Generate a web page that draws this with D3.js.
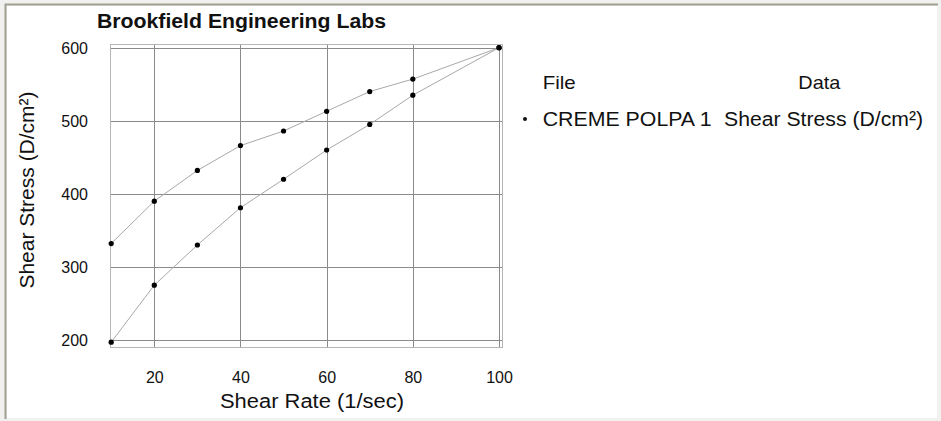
<!DOCTYPE html>
<html>
<head>
<meta charset="utf-8">
<script src="https://cdn.jsdelivr.net/npm/d3@7"></script>
<style>
  html, body { margin: 0; padding: 0; background: #f2f2f0; }
  svg { display: block; font-family: "Liberation Sans", Arial, sans-serif; }
</style>
</head>
<body>
<svg id="chart" width="941" height="421"></svg>
<script>
// Shear rate (1/sec) at each measurement step
const shearRate = [10, 20, 30, 40, 50, 60, 70, 80, 100];
// Shear stress (D/cm²) on the ramp up and on the ramp down
const stressUp = [197, 275, 330, 381, 420, 460, 495, 535, 600];
const stressDown = [332, 390, 432, 466, 486, 513, 540, 557, 600];
const xTicks = [20, 40, 60, 80, 100];
const yTicks = [200, 300, 400, 500, 600];

const title = "Brookfield Engineering Labs";
const xTitle = "Shear Rate (1/sec)";
const yTitle = "Shear Stress (D/cm²)";
const legendHeaders = ["File", "Data"];
const legendFile = "CREME POLPA 1";
const legendData = "Shear Stress (D/cm²)";

const svg = d3.select("#chart");

// window panel with a sunken border
svg.append("rect").attr("x", 0).attr("y", 0).attr("width", 941).attr("height", 421).attr("fill", "#f1f1ef");
svg.append("rect").attr("x", 7).attr("y", 6).attr("width", 930).attr("height", 412).attr("fill", "#ffffff");
svg.append("path").attr("d", "M5.5,419 V4.5 H938").attr("fill", "none").attr("stroke", "#a09f92").attr("stroke-width", 2);

const x = d3.scaleLinear().domain([10, 100]).range([111.2, 499]);
const y = d3.scaleLinear().domain([200, 600]).range([340, 47.7]);

const plot = svg.append("g");

// grid
plot.selectAll("line.vgrid").data(xTicks).join("line")
  .attr("class", "vgrid")
  .attr("x1", d => Math.round(x(d)) + 0.5).attr("x2", d => Math.round(x(d)) + 0.5)
  .attr("y1", y(600) - 3.5).attr("y2", y(200) + 7)
  .attr("stroke", "#8a8a8a").attr("stroke-width", 1);
plot.selectAll("line.hgrid").data(yTicks).join("line")
  .attr("class", "hgrid")
  .attr("x1", x(10) - 1).attr("x2", x(100) + 3)
  .attr("y1", d => Math.round(y(d)) + 0.5).attr("y2", d => Math.round(y(d)) + 0.5)
  .attr("stroke", "#8a8a8a").attr("stroke-width", 1);

// plot frame
plot.append("rect")
  .attr("x", Math.round(x(10) - 1) + 0.5).attr("y", Math.round(y(600) - 3.5) + 0.5)
  .attr("width", Math.round(x(100) + 3) - Math.round(x(10) - 1))
  .attr("height", Math.round(y(200) + 7) - Math.round(y(600) - 3.5))
  .attr("fill", "none").attr("stroke", "#b5b5b5").attr("stroke-width", 1);

// axes labels via d3 axes (no domain line, no ticks)
const xAxis = d3.axisBottom(x).tickValues(xTicks).tickSize(0).tickPadding(0).tickFormat(d3.format("d"));
const gx = svg.append("g").attr("transform", "translate(0,383)").call(xAxis);
gx.select(".domain").remove();
gx.selectAll("text").attr("dy", 0).attr("font-size", 16).attr("fill", "#111").attr("font-family", "Liberation Sans, Arial, sans-serif");

const yAxis = d3.axisLeft(y).tickValues(yTicks).tickSize(0).tickPadding(0).tickFormat(d3.format("d"));
const gy = svg.append("g").attr("transform", "translate(88,0)").call(yAxis);
gy.select(".domain").remove();
gy.selectAll("text").attr("dy", "0.36em").attr("font-size", 16).attr("fill", "#111").attr("font-family", "Liberation Sans, Arial, sans-serif");

// data lines
const line = d3.line().x(d => x(d[0])).y(d => y(d[1]));
const upPts = shearRate.map((r, i) => [r, stressUp[i]]);
const downPts = shearRate.map((r, i) => [r, stressDown[i]]);
[upPts, downPts].forEach(pts => {
  plot.append("path").attr("d", line(pts)).attr("fill", "none")
    .attr("stroke", "#a8a8a8").attr("stroke-width", 1);
});
plot.selectAll("circle.pt").data(upPts.concat(downPts)).join("circle")
  .attr("class", "pt")
  .attr("cx", d => x(d[0])).attr("cy", d => y(d[1])).attr("r", 2.6)
  .attr("fill", "#000");

// titles
svg.append("text").attr("x", 97).attr("y", 27.5)
  .attr("font-size", 19.5).attr("font-weight", "bold").attr("fill", "#111")
  .attr("textLength", 289).attr("lengthAdjust", "spacingAndGlyphs").text(title);

svg.append("text").attr("x", 220).attr("y", 407.5)
  .attr("font-size", 20).attr("fill", "#111")
  .attr("textLength", 184).attr("lengthAdjust", "spacingAndGlyphs").text(xTitle);

svg.append("text").attr("transform", "translate(34,190) rotate(-90)")
  .attr("text-anchor", "middle").attr("font-size", 21).attr("fill", "#111")
  .text(yTitle);

// legend
svg.append("text").attr("x", 542.7).attr("y", 89)
  .attr("font-size", 18.5).attr("fill", "#111")
  .attr("textLength", 33).attr("lengthAdjust", "spacingAndGlyphs").text(legendHeaders[0]);
svg.append("text").attr("x", 798.3).attr("y", 89)
  .attr("font-size", 18.5).attr("fill", "#111")
  .attr("textLength", 42).attr("lengthAdjust", "spacingAndGlyphs").text(legendHeaders[1]);
svg.append("circle").attr("cx", 525).attr("cy", 119).attr("r", 2).attr("fill", "#111");
svg.append("text").attr("x", 542.7).attr("y", 126)
  .attr("font-size", 20).attr("fill", "#111")
  .attr("textLength", 169).attr("lengthAdjust", "spacingAndGlyphs").text(legendFile);
svg.append("text").attr("x", 724).attr("y", 126)
  .attr("font-size", 20).attr("fill", "#111")
  .attr("textLength", 199).attr("lengthAdjust", "spacingAndGlyphs").text(legendData);
</script>
</body>
</html>
